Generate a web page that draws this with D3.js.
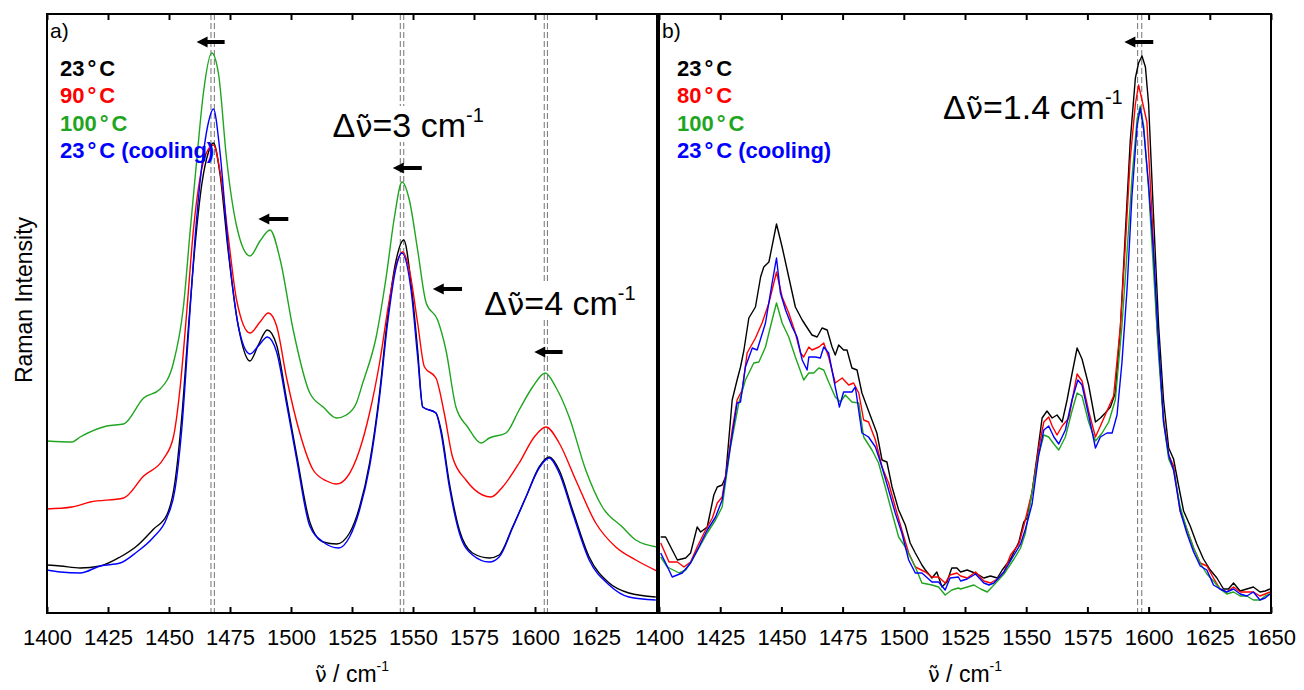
<!DOCTYPE html>
<html><head><meta charset="utf-8">
<script src="https://cdn.jsdelivr.net/npm/d3@7"></script>
<style>body{margin:0;background:#fff} svg{display:block} text{font-family:"Liberation Sans",Arial,Helvetica,sans-serif} .nu{font-family:"DejaVu Sans",sans-serif}</style>
</head><body>
<svg id="chart" width="1304" height="690"></svg>
<script>
// ---------- DATA ----------
const tickValues = [1400,1425,1450,1475,1500,1525,1550,1575,1600,1625,1650];
const tickLabelsA = ["1400","1425","1450","1475","1500","1525","1550","1575","1600","1625",""];
const tickLabelsB = ["1400","1425","1450","1475","1500","1525","1550","1575","1600","1625","1650"];
const colors = ["#000000","#ff0000","#1fa51f","#0000ff"];
const legendA = ["23°C","90°C","100°C","23°C (cooling)"];
const legendB = ["23°C","80°C","100°C","23°C (cooling)"];

// Panel a) spectra (wavenumber, intensity a.u.)
const aBlackWn = [1400,1405.5,1413.6,1421.8,1430,1436.8,1443.7,1449.1,1452.5,1455.2,1458,1460.7,1463.4,1466.2,1468.2,1470.9,1474.3,1478.4,1483.2,1486.6,1490.3,1494.1,1498.2,1502.3,1507.7,1513.2,1518.7,1524,1528.1,1532.2,1536.3,1539.6,1543.1,1546.2,1549.2,1551.9,1554,1559.4,1561.5,1564.9,1569,1574.4,1581.3,1585.3,1590.8,1596.3,1601.7,1605.8,1609.9,1615.4,1622.2,1630.4,1638.5,1649.5];
const aBlackInt = [48,47,45,47,56,67,84,98,132,195,287,368,428,461,470,439,361,287,252,268,283,268,213,158,91,71,69,80,106,150,220,296,353,373,330,263,206,200,183,130,83,60,55,58,86,116,146,156,143,103,56,30,20,16];
const aRedWn = [1400,1410.2,1417.7,1431.4,1439.6,1447.7,1451.8,1454.5,1457.3,1460,1462.7,1465.5,1468.2,1470.9,1474.3,1477.7,1483.2,1487.3,1490.7,1494.1,1498.2,1503.6,1509.1,1514.6,1518.7,1522.7,1528.1,1532.2,1536.3,1540.3,1543.7,1545.8,1548.5,1551.9,1554.7,1559.4,1562.8,1566.2,1571.7,1578.5,1582,1586.7,1593.5,1599.7,1604.5,1609.9,1616.7,1624.9,1633.1,1641.3,1650];
const aRedInt = [104,106,111,115,137,154,176,224,302,383,435,461,468,442,376,313,280,291,300,287,235,180,143,132,129,135,163,200,250,313,353,361,343,290,246,235,200,156,133,118,116,126,150,176,186,170,133,90,66,53,42];
const aGreenWn = [1400,1410.2,1413.6,1424.5,1431.4,1439.6,1446.4,1451.8,1455.9,1458.6,1461.4,1464.1,1467.5,1470.3,1473.6,1477.7,1483.2,1487.3,1491.4,1495.5,1500.9,1507.7,1513.2,1518.7,1522.7,1526.8,1529.4,1534.9,1539,1542.4,1545.5,1548.5,1551.9,1555.4,1560.1,1563.5,1567.6,1572.4,1577.9,1581.3,1588.1,1593.5,1599,1604.2,1608.5,1614,1620.8,1627.6,1635.8,1641.3,1650];
const aGreenInt = [172,171,176,187,189,215,224,250,306,380,454,520,560,539,454,387,357,372,383,354,283,220,206,195,198,210,230,276,336,396,431,413,363,310,293,263,206,186,170,175,180,203,226,240,226,196,143,106,86,73,66];
const aBlueWn = [1400,1405.5,1413.6,1421.8,1430,1436.8,1443.7,1449.1,1452.5,1455.2,1458,1460.7,1463.4,1466.2,1468.2,1470.9,1474.3,1478.4,1483.2,1486.6,1490.3,1494.1,1498.2,1502.3,1507.7,1513.2,1519.5,1524,1528.1,1532.2,1536.3,1539.6,1543.1,1545.4,1549.2,1551.9,1554,1559.4,1561.5,1564.9,1569,1574.4,1581.3,1585.3,1590.8,1596.3,1601.7,1605.8,1609.9,1615.4,1622.2,1630.4,1638.5,1649.5];
const aBlueInt = [43,41,40,47,50,61,76,95,124,183,280,376,446,491,504,461,365,287,259,267,276,261,209,154,87,71,65,76,103,146,216,290,346,360,323,256,206,200,180,126,80,58,51,56,85,116,145,155,140,100,53,28,16,13];

// Panel b) spectra
const bBlackWn = [1400.7,1402.7,1407.5,1410.9,1412.9,1415.6,1417,1419.7,1422.4,1423.8,1425.8,1427.2,1429.9,1431.9,1433.3,1434.7,1436.7,1439.4,1441.5,1442.8,1444.9,1448,1450.3,1453,1455.7,1458.5,1459.8,1462.5,1464.6,1466.6,1468.7,1470.7,1472,1473.4,1475.4,1476.8,1478.8,1480.9,1482.9,1485,1487,1489,1491.1,1493.1,1495.2,1497.9,1500.6,1502.6,1504.7,1507.4,1508.8,1511.5,1513.5,1515.6,1517.6,1519.6,1521.7,1523.2,1525.9,1530,1532.7,1535.4,1538.2,1540.2,1543.6,1547,1549,1550.4,1552.4,1554.5,1556.5,1558.5,1560.6,1562.6,1564.7,1566.7,1568.7,1570.8,1572.8,1575.5,1578.3,1580.3,1582.3,1584.4,1586.4,1588.5,1590.5,1592.5,1594.6,1595.9,1597.3,1598.7,1600,1602,1604.1,1606.1,1608.2,1610.2,1612.2,1614.3,1617,1619.7,1622.4,1625.2,1627.9,1630.6,1632.6,1634.7,1637.4,1640.1,1642.8,1645.5,1647.6,1649.6];
const bBlackInt = [76,76,53,55,60,86,81,86,118,126,128,136,213,233,246,263,295,306,336,346,351,389,366,336,306,293,288,278,276,285,283,266,258,268,263,263,245,243,220,206,193,180,153,151,126,103,88,70,60,48,43,35,41,26,31,45,45,41,43,39,35,37,35,43,54,71,91,95,121,158,195,202,195,198,191,213,239,265,254,228,191,195,200,206,220,287,380,472,535,550,557,546,509,398,287,213,165,154,128,102,87,69,54,43,35,24,24,30,22,24,26,21,22,24];
const bRedWn = [1400.7,1404.1,1407.5,1410.2,1412.9,1415.6,1419,1421.8,1423.8,1425.8,1427.9,1429.9,1431.9,1434,1436,1439.4,1442.1,1444.9,1448,1450.3,1453,1455.7,1457.8,1459.1,1461.2,1462.5,1465.3,1467.3,1469.3,1472,1474.8,1477.5,1479.5,1481.6,1483.6,1485.6,1488.4,1491.1,1493.8,1496.5,1499.2,1502,1504.7,1508.8,1511.5,1514.2,1516.9,1518.9,1521.7,1523.2,1525.9,1529.3,1532.7,1535.4,1538.2,1540.9,1543.6,1547,1549,1552.4,1555.1,1557.2,1559.2,1560.6,1562.6,1564.7,1567.4,1570.8,1572.8,1575.5,1578.3,1580.3,1583,1585.7,1588.5,1590.5,1592.5,1594.6,1595.9,1597.3,1599.3,1601.4,1603.4,1606.1,1608.2,1610.2,1612.9,1615.6,1618.4,1621.1,1623.8,1626.5,1629.2,1631.9,1634.7,1637.4,1640.1,1642.8,1645.5,1647.6,1649.6];
const bRedInt = [70,51,51,46,51,66,83,95,110,116,148,183,213,223,260,275,290,310,341,316,300,280,260,256,266,263,266,270,256,230,235,228,230,220,193,191,173,146,130,106,83,60,46,41,36,36,30,38,40,37,35,41,32,30,34,41,58,69,87,121,165,191,196,187,178,187,195,239,232,202,176,187,202,217,287,368,454,509,528,513,491,398,287,195,158,147,102,84,65,50,47,35,24,21,26,21,21,21,17,19,21];
const bGreenWn = [1400.7,1403.4,1408.2,1410.9,1413.6,1416.3,1419.7,1423.1,1425.8,1429.2,1432.6,1435.3,1438.7,1440.8,1443.5,1446.2,1448,1450.3,1453,1455.7,1459.1,1461.2,1463.2,1465.3,1467.3,1469.3,1472,1474.1,1476.1,1478.8,1481.6,1483.6,1487,1489.7,1492.4,1495.2,1497.9,1500.6,1504.7,1507.4,1511.5,1514.2,1516.9,1519.6,1522.3,1523.2,1525.9,1528.6,1531.4,1534.1,1536.8,1540.9,1545,1547.7,1549.7,1552.4,1555.1,1557.2,1559.2,1561.3,1563.3,1566,1568.7,1570.8,1572.8,1575.5,1578.3,1581,1583.7,1586.4,1589.1,1591.2,1593.2,1595.3,1596.6,1598,1600,1602,1604.1,1606.1,1608.2,1610.2,1612.9,1615.6,1618.4,1621.1,1623.8,1626.5,1629.2,1631.9,1634.7,1637.4,1640.1,1642.8,1645.5,1647.6,1649.6];
const bGreenInt = [56,46,40,43,53,65,80,93,106,166,210,233,250,251,266,293,310,290,276,256,233,240,240,245,243,231,216,211,218,211,210,176,163,150,126,100,76,66,46,30,28,26,18,23,25,24,26,28,24,21,28,39,54,65,80,121,158,178,176,169,163,176,202,220,217,191,172,180,191,213,287,361,435,494,507,487,424,343,257,191,154,143,106,84,65,50,39,32,24,19,21,17,17,13,13,17,19];
const bBlueWn = [1400.7,1402.7,1405.4,1409.5,1412.9,1416.3,1419.7,1423.1,1425.8,1428.5,1431.9,1433.3,1435.3,1438.1,1440.1,1443.5,1446.2,1448,1449.6,1451.7,1454.4,1456.4,1458.5,1460.5,1461.2,1463.9,1465.9,1467.3,1469.3,1472,1473.7,1475.4,1478.8,1480.2,1482.9,1485.6,1488.4,1491.1,1493.8,1496.5,1499.2,1502,1504.7,1507.4,1511.5,1514.2,1516.9,1518.9,1522.3,1523.2,1525.9,1529.3,1532.7,1534.8,1536.8,1540.9,1545,1547.7,1549.7,1552.4,1555.1,1557.2,1559.2,1561.3,1563.3,1566,1568.7,1571.1,1572.8,1575.5,1578.3,1580.3,1583,1585.1,1587.1,1589.1,1591.2,1593.2,1595.3,1596.6,1598,1600,1602,1604.1,1606.1,1608.2,1610.2,1612.9,1615.6,1618.4,1621.1,1623.8,1626.5,1629.2,1631.9,1634.7,1637.4,1640.1,1642.8,1645.5,1647.6,1649.6];
const bBlueInt = [60,50,36,40,50,66,83,96,113,156,210,211,246,265,263,290,330,355,320,303,286,276,253,243,256,256,255,266,260,226,206,221,221,226,180,176,166,146,123,100,80,53,40,40,31,31,23,35,36,32,34,39,30,28,30,41,58,69,84,109,158,183,187,176,169,183,213,233,228,198,165,176,180,180,198,250,324,417,487,505,483,428,361,269,191,158,143,102,80,61,47,43,28,24,21,24,19,17,21,13,15,19];

// reference peak positions (dashed pairs), wavenumbers
const dashedA = [1467.2,1468.6,1544.8,1546.2,1603.8,1605.1];
const dashedB = [1595.5,1597.2];
// shift arrows: [tip wavenumber, tail wavenumber, intensity]
const arrowsA = [[1461.3,1472.8,571],[1486.6,1498.9,394],[1541.7,1553.6,445],[1558.1,1570.1,324],[1599.7,1611.3,261]];
const arrowsB = [[1590.1,1601.9,571]];
// shift labels: [wavenumber, intensity, value]
const shiftA = [[1517.0,476,"3"],[1579.2,298,"4"]];
const shiftB = [[1516.0,494,"1.4"]];

// ---------- DRAW ----------
const svg = d3.select("#chart");
const yTop = 14, yBot = 613;
const y = d3.scaleLinear().domain([0,600]).range([613,13]);
const panels = [
  {id:"a", x:d3.scaleLinear().domain([1400,1650]).range([47,657]), labels:tickLabelsA, legend:legendA,
   series:[[aBlackWn,aBlackInt],[aRedWn,aRedInt],[aGreenWn,aGreenInt],[aBlueWn,aBlueInt]],
   curve:d3.curveMonotoneX, dashed:dashedA, arrows:arrowsA, shifts:shiftA, shiftBg:true},
  {id:"b", x:d3.scaleLinear().domain([1400,1650]).range([659,1271]), labels:tickLabelsB, legend:legendB,
   series:[[bBlackWn,bBlackInt],[bRedWn,bRedInt],[bGreenWn,bGreenInt],[bBlueWn,bBlueInt]],
   curve:d3.curveLinear, dashed:dashedB, arrows:arrowsB, shifts:shiftB, shiftBg:false}
];

panels.forEach(p => {
  const x = p.x;
  const [x0,x1] = x.range();
  const g = svg.append("g");
  svg.append("clipPath").attr("id","clip"+p.id).append("rect")
    .attr("x",x0).attr("y",yTop).attr("width",x1-x0).attr("height",yBot-yTop);

  // dashed reference lines
  g.selectAll(".dl").data(p.dashed).join("line")
    .attr("x1",d=>x(d)).attr("x2",d=>x(d)).attr("y1",yTop).attr("y2",yBot)
    .attr("stroke","#808080").attr("stroke-width",1.1).attr("stroke-dasharray","6,3");

  // spectra
  const line = d3.line().curve(p.curve).x(d=>x(d[0])).y(d=>y(d[1]));
  const cg = g.append("g").attr("clip-path",`url(#clip${p.id})`);
  p.series.forEach((s,i) => {
    cg.append("path").datum(d3.zip(s[0],s[1])).attr("d",line)
      .attr("fill","none").attr("stroke",colors[i]).attr("stroke-width",1.4)
      .attr("stroke-linejoin","round");
  });

  // arrows
  p.arrows.forEach(a => {
    const tx = x(a[0]), ex = x(a[1]), cy = y(a[2]);
    const hl = 11, hh = 5.5, st = 2.1;
    const pts = [[tx,cy],[tx+hl,cy-hh],[tx+hl,cy-st],[ex,cy-st],[ex,cy+st],[tx+hl,cy+st],[tx+hl,cy+hh]];
    g.append("path").attr("d","M"+pts.map(q=>q.join(",")).join("L")+"Z").attr("fill","#000");
  });

  // shift labels
  p.shifts.forEach(s => {
    const t = g.append("text").attr("x",x(s[0])).attr("y",y(s[1])).attr("font-size",34).attr("fill","#000");
    t.append("tspan").text("Δ");
    t.append("tspan").attr("class","nu").attr("font-size",31).text("ν\u0303");
    t.append("tspan").text("=" + s[2] + " cm");
    t.append("tspan").attr("font-size",20).attr("dy",-15).text("-1");
    if (p.shiftBg) {
      const b = t.node().getBBox();
      g.insert("rect","text").attr("x",b.x-2).attr("y",b.y+2).attr("width",b.width+4).attr("height",b.height-4).attr("fill","#fff");
    }
  });

  // axes
  const bottom = d3.axisBottom(x).tickValues(tickValues).tickSize(-6).tickPadding(16.5)
    .tickFormat((d,i)=>p.labels[i]);
  const ga = svg.append("g").attr("transform",`translate(0,${yBot})`).call(bottom);
  ga.select(".domain").remove();
  ga.selectAll(".tick line").attr("stroke","#000").attr("stroke-width",2);
  ga.selectAll(".tick text").attr("font-size",22).attr("font-family","'Liberation Sans',Arial,sans-serif").attr("fill","#000");
  const top = d3.axisTop(x).tickValues(tickValues).tickSize(-6).tickFormat("");
  const gt = svg.append("g").attr("transform",`translate(0,${yTop})`).call(top);
  gt.select(".domain").remove();
  gt.selectAll(".tick line").attr("stroke","#000").attr("stroke-width",2);

  // frame
  svg.append("rect").attr("x",x0).attr("y",yTop).attr("width",x1-x0).attr("height",yBot-yTop)
    .attr("fill","none").attr("stroke","#000").attr("stroke-width",2);

  // panel letter
  svg.append("text").attr("x",x0+3).attr("y",38).attr("font-size",21).text(p.id+")");

  // legend
  p.legend.forEach((lab,i) => {
    const t = svg.append("text").attr("x",x0+13+(p.id==="b"?5:0)).attr("y",76+i*27.3)
      .attr("font-size",22).attr("font-weight","bold").attr("fill",colors[i]);
    const k = lab.indexOf("°");
    t.append("tspan").text(lab.slice(0,k));
    t.append("tspan").attr("dx",3).text("°");
    t.append("tspan").attr("dx",3).text(lab.slice(k+1));
  });

  // x axis title
  const xt = svg.append("text").attr("x",(x0+x1)/2).attr("y",682).attr("text-anchor","middle").attr("font-size",23);
  xt.append("tspan").attr("class","nu").attr("font-size",21).text("ν\u0303");
  xt.append("tspan").text(" / cm");
  xt.append("tspan").attr("font-size",14).attr("dy",-11).text("-1");
});

svg.append("text").attr("transform","translate(32,300) rotate(-90)").attr("text-anchor","middle")
  .attr("font-size",23).text("Raman Intensity");
</script>
</body></html>
